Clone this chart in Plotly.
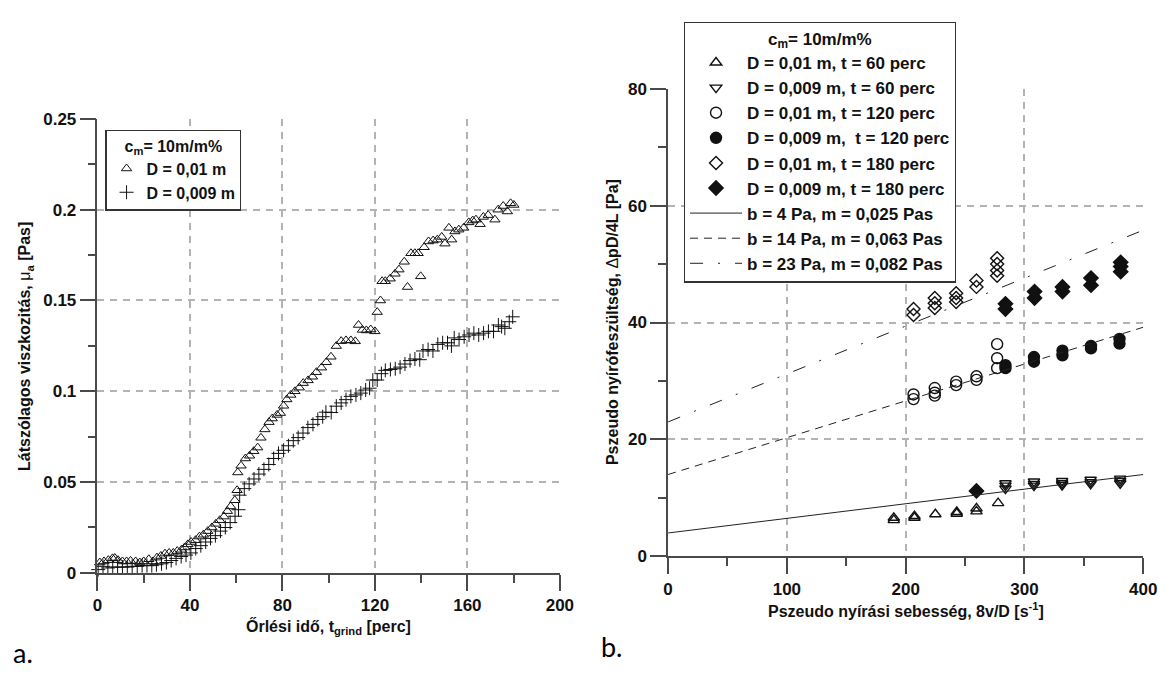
import plotly.graph_objects as go

# ---------------- Panel a data ----------------
tri_a_x = [0.3, 1, 2.8, 4.7, 6.5, 7.5, 8.9, 10.8, 12.6, 14.3, 16.5, 18.3, 20, 22.2, 24, 25.7, 27.4, 29.2,
           31, 32.8, 34.5, 36.3, 37.7, 39.1, 40.5, 42.4, 44.1, 45.8, 47.7, 49.5, 51.2, 52.9, 54.7, 56.2,
           57.6, 59.4, 60.4, 60.7, 62.1, 64, 65.8, 67.6, 69.3, 70.7, 72.4, 74.2, 75.6, 77.7, 79.1, 80.5,
           81.9, 83.6, 85.4, 87.3, 89, 91.1, 93, 94.7, 96.9, 99, 101, 103.3, 105.4, 107.5, 109.6, 111.5,
           112.9, 114.6, 116.3, 118.2, 120, 121, 122.4, 123.1, 124.5, 126.6, 128.7, 130.4, 132.7, 134.1,
           135.6, 137.3, 138.7, 139.8, 141.3, 143.2, 145.2, 147, 148.9, 150.3, 152, 153.2, 154.6, 156.3,
           158.4, 160.6, 162.3, 163.7, 165.5, 166.9, 169, 171.9, 173.3, 175.5, 177.3, 178.7, 180.1]
tri_a_y = [-0.0063, 0.0057, 0.0063, 0.007, 0.008, 0.0082, 0.007, 0.0063, 0.0063, 0.0066, 0.0063, 0.0057,
           0.0063, 0.0075, 0.0063, 0.0084, 0.0093, 0.0106, 0.011, 0.011, 0.012, 0.0127, 0.014, 0.0157,
           0.017, 0.018, 0.020, 0.021, 0.023, 0.025, 0.027, 0.029, 0.031, 0.034, 0.0366, 0.040, 0.0455,
           0.0553, 0.059, 0.063, 0.0645, 0.067, 0.069, 0.0744, 0.079, 0.083, 0.085, 0.087, 0.088, 0.092,
           0.0955, 0.098, 0.100, 0.102, 0.1045, 0.106, 0.108, 0.1105, 0.113, 0.116, 0.119, 0.1249, 0.1276,
           0.128, 0.128, 0.1275, 0.1365, 0.1338, 0.1335, 0.134, 0.133, 0.1436, 0.150, 0.1606, 0.1606,
           0.162, 0.1647, 0.167, 0.1713, 0.1574, 0.176, 0.176, 0.176, 0.1633, 0.1793, 0.1825, 0.183,
           0.1835, 0.185, 0.1813, 0.19, 0.1835, 0.188, 0.189, 0.19, 0.193, 0.194, 0.1945, 0.192, 0.196,
           0.197, 0.1945, 0.2, 0.202, 0.199, 0.2035, 0.2026]

crs_a_x = [0.3, 2.4, 4.5, 6.6, 8.7, 10.8, 12.9, 15, 17.2, 19.3, 21.4, 23.5, 25.5, 27.7, 29.8, 31.9, 34,
           36.2, 38.3, 40.4, 42.5, 44.7, 46.8, 48.9, 51, 53.2, 55.3, 57.4, 59.5, 61, 61.5, 63.5, 65.6,
           67.7, 69.8, 72, 74.1, 76.2, 78.3, 80.5, 82.6, 84.7, 86.8, 88.9, 91, 93.2, 95.3, 97.4, 98.8,
           101.1, 103.3, 105.4, 107.5, 109.6, 111.8, 113.9, 116, 117.7, 119.1, 121, 122.8, 124.5, 126.7,
           128.8, 130.9, 133, 135.2, 137.3, 139.4, 140.8, 143, 145.1, 147.2, 149.3, 151.4, 153.1, 154.3,
           156.4, 158.6, 160.7, 162.8, 164.9, 167, 169.1, 171.3, 173.4, 174.8, 176.2, 178.1, 179.6]
crs_a_y = [0.0018, 0.0036, 0.0027, 0.0032, 0.0032, 0.0032, 0.0032, 0.0036, 0.0036, 0.004, 0.004, 0.004,
           0.0045, 0.005, 0.0057, 0.0068, 0.008, 0.009, 0.0098, 0.011, 0.0134, 0.015, 0.017, 0.019,
           0.0205, 0.023, 0.025, 0.0277, 0.0312, 0.0348, 0.0428, 0.0464, 0.049, 0.0517, 0.0544, 0.057,
           0.0597, 0.063, 0.0658, 0.0675, 0.070, 0.0728, 0.0745, 0.077, 0.080, 0.0818, 0.0845, 0.086,
           0.0885, 0.0883, 0.0918, 0.0936, 0.0954, 0.0972, 0.098, 0.099, 0.1007, 0.1017, 0.1062, 0.1062,
           0.1097, 0.1115, 0.112, 0.1124, 0.1133, 0.115, 0.1169, 0.1178, 0.1174, 0.1222, 0.123, 0.1222,
           0.1258, 0.1267, 0.1267, 0.125, 0.1294, 0.1285, 0.130, 0.131, 0.132, 0.131, 0.132, 0.133,
           0.133, 0.1365, 0.1356, 0.1347, 0.1383, 0.141]

# ---------------- Panel b data ----------------
tu_x = [190, 190, 207.4, 207.4, 225, 243, 243, 259.6, 259.6, 277.8]
tu_y = [6.2, 6.6, 6.6, 6.9, 7.2, 7.3, 7.6, 7.7, 8.2, 9.1]
td_x = [284, 284, 284, 308, 308, 308, 331.7, 331.7, 331.7, 355.7, 355.7, 355.7, 380.6, 380.6, 380.6]
td_y = [11.6, 12.1, 12.5, 12.1, 12.4, 12.8, 12.2, 12.5, 12.9, 12.4, 12.7, 13.1, 12.5, 12.9, 13.3]
co_x = [206.6, 206.6, 224.5, 224.5, 224.5, 242.5, 242.5, 259.6, 259.6, 277, 277, 277]
co_y = [26.9, 27.7, 27.5, 28.0, 28.8, 29.3, 29.9, 30.2, 30.8, 32.2, 33.9, 36.3]
cf_x = [284, 284, 308, 308, 332, 332, 356, 356, 380, 380]
cf_y = [32.2, 32.7, 33.3, 34.1, 34.4, 35.2, 35.6, 36.0, 36.4, 37.2]
do_x = [206.6, 206.6, 224.5, 224.5, 224.5, 242.5, 242.5, 242.5, 259.6, 259.6, 277, 277, 277, 277]
do_y = [41.3, 42.3, 42.5, 43.3, 44.2, 43.5, 44.2, 45, 46.1, 47.2, 48, 48.9, 50, 51]
df_x = [259.6, 284, 284, 308.5, 308.5, 332, 332, 356, 356, 381, 381, 381]
df_y = [11.2, 42.3, 43.2, 44.2, 45.3, 45.3, 46.1, 46.4, 47.6, 48.7, 49.6, 50.3]

fit_b = [4, 14, 23]            # Pa
fit_m = [0.025, 0.063, 0.082]  # Pas
fit_x = [0, 400]
fit_names = ["b = 4 Pa, m = 0,025 Pas", "b = 14 Pa, m = 0,063 Pas", "b = 23 Pa, m = 0,082 Pas"]
fit_dash = ["solid", "8px,6px", "13px,15px,2px,15px"]

W, H = 1173, 684


def PX(px):
    return px / W


def PY(py):
    return 1 - py / H


FONT = "Liberation Sans, Arial, sans-serif"
INK = "#111111"
AXC = "#4a4a4a"
GRIDC = "#b3b3b3"

fig = go.Figure()

fig.add_trace(go.Scatter(x=tri_a_x, y=tri_a_y, mode="markers", name="D = 0,01 m",
                         marker=dict(symbol="triangle-up-open", size=9, color=INK, line=dict(width=1)),
                         xaxis="x", yaxis="y", legend="legend", cliponaxis=False))
fig.add_trace(go.Scatter(x=crs_a_x, y=crs_a_y, mode="markers", name="D = 0,009 m",
                         marker=dict(symbol="cross-thin-open", size=10, color=INK, line=dict(width=1, color=INK)),
                         xaxis="x", yaxis="y", legend="legend", cliponaxis=False))

b_series = [
    (tu_x, tu_y, "triangle-up-open", 10, "D = 0,01 m, t = 60 perc"),
    (td_x, td_y, "triangle-down-open", 10, "D = 0,009 m, t = 60 perc"),
    (co_x, co_y, "circle-open", 11, "D = 0,01 m, t = 120 perc"),
    (cf_x, cf_y, "circle", 11, "D = 0,009 m,\u00a0 t = 120 perc"),
    (do_x, do_y, "diamond-open", 10, "D = 0,01 m, t = 180 perc"),
    (df_x, df_y, "diamond", 11, "D = 0,009 m, t = 180 perc"),
]
for xs, ys, sym, sz, nm in b_series:
    fig.add_trace(go.Scatter(x=xs, y=ys, mode="markers", name=nm,
                             marker=dict(symbol=sym, size=sz, color=INK, line=dict(width=1.4, color=INK)),
                             xaxis="x2", yaxis="y2", legend="legend2", cliponaxis=False))

for b, m, nm, dsh in zip(fit_b, fit_m, fit_names, fit_dash):
    fig.add_trace(go.Scatter(x=fit_x, y=[b + m * v for v in fit_x], mode="lines", name=nm,
                             line=dict(color="#222222", width=1, dash=dsh),
                             xaxis="x2", yaxis="y2", legend="legend2"))

tickfont = dict(family=FONT, size=17, color=INK, weight="bold")
common = dict(showline=True, linecolor=AXC, linewidth=1.5, ticks="outside", ticklen=16, tickwidth=1.5,
              tickcolor=AXC, showgrid=True, gridcolor=GRIDC, gridwidth=1.5, griddash="7px,6px",
              zeroline=False, tickfont=tickfont, mirror=False)

fig.update_layout(
    width=W, height=H, margin=dict(l=0, r=0, t=0, b=0), autosize=False,
    paper_bgcolor="white", plot_bgcolor="white",
    font=dict(family=FONT, color=INK),
    xaxis=dict(domain=[PX(94), PX(564)], range=[0, 200], dtick=40, tick0=0, anchor="y",
               minor=dict(dtick=20, ticks="outside", ticklen=8, tickcolor=AXC, showgrid=False), **common),
    yaxis=dict(domain=[PY(580), PY(113)], range=[0, 0.25], dtick=0.05, tick0=0, anchor="x",
               minor=dict(dtick=0.025, ticks="outside", ticklen=8, tickcolor=AXC, showgrid=False), **common),
    xaxis2=dict(domain=[PX(674), PX(1157)], range=[0, 400], dtick=100, tick0=0, anchor="y2",
                minor=dict(dtick=50, ticks="outside", ticklen=8, tickcolor=AXC, showgrid=False), **common),
    yaxis2=dict(domain=[PY(563), PY(82)], range=[0, 80], dtick=20, tick0=0, anchor="x2",
                minor=dict(dtick=10, ticks="outside", ticklen=8, tickcolor=AXC, showgrid=False), **common),
    legend=dict(x=PX(102), y=PY(124), xanchor="left", yanchor="top",
                bgcolor="white", bordercolor="#333333", borderwidth=1.2,
                font=dict(family=FONT, size=16, color=INK, weight="bold"),
                title=dict(text="c<sub>m</sub>= 10m/m%", side="top center",
                           font=dict(family=FONT, size=16, color=INK, weight="bold")),
                itemwidth=30, tracegroupgap=0),
    legend2=dict(x=PX(690), y=PY(13), xanchor="left", yanchor="top",
                 bgcolor="white", bordercolor="#333333", borderwidth=1.2,
                 font=dict(family=FONT, size=17, color=INK, weight="bold"),
                 title=dict(text="c<sub>m</sub>= 10m/m%", side="top center",
                            font=dict(family=FONT, size=17, color=INK, weight="bold")),
                 itemwidth=52, tracegroupgap=0),
    showlegend=True,
)

tfont = dict(family=FONT, size=16, color=INK, weight="bold")
annots = [
    dict(text="Látszólagos viszkozitás, <span style='font-weight:normal'>μ</span><sub>a</sub> [Pas]",
         x=PX(21), y=PY(347), textangle=-90, font=tfont),
    dict(text="Őrlési idő, t<sub>grind</sub> [perc]", x=PX(329), y=PY(636), font=tfont),
    dict(text="Pszeudo nyírófeszültség, <span style='font-weight:normal'>Δ</span>pD/4L [Pa]",
         x=PX(617), y=PY(322), textangle=-90, font=tfont),
    dict(text="Pszeudo nyírási sebesség, 8v/D [s<sup>-1</sup>]", x=PX(916), y=PY(618), font=tfont),
    dict(text="a.", x=PX(18), y=PY(662), font=dict(family="Lato, Open Sans, sans-serif", size=27, color="#000")),
    dict(text="b.", x=PX(617), y=PY(656), font=dict(family="Lato, Open Sans, sans-serif", size=27, color="#000")),
]
for a in annots:
    fig.add_annotation(xref="paper", yref="paper", xanchor="center", yanchor="middle",
                       showarrow=False, **a)

fig.write_html("out.html")
